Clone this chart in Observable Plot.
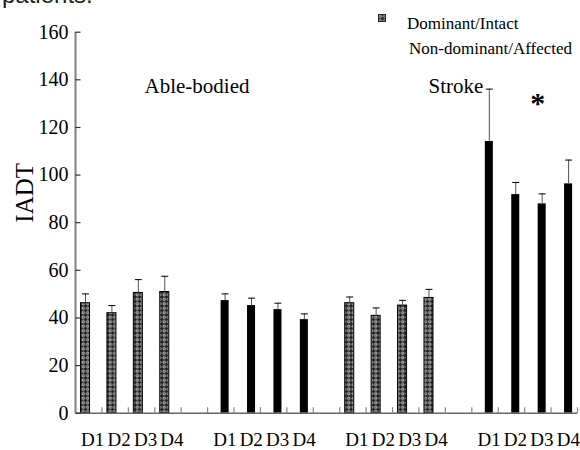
<!DOCTYPE html>
<html><head><meta charset="utf-8">
<script src="https://cdn.jsdelivr.net/npm/d3@7"></script>
<script src="https://cdn.jsdelivr.net/npm/@observablehq/plot@0.6"></script>
<style>
body{margin:0;background:#fff;}
#wrap{position:relative;width:580px;height:450px;overflow:hidden;background:#fff;}
#top{position:absolute;left:2px;top:-19px;font:24px 'Liberation Sans',Arial,sans-serif;color:#222;white-space:nowrap;}
.leg{position:absolute;font-family:'Liberation Serif','Times New Roman',serif;font-size:17px;color:#000;white-space:nowrap;}
#chart{position:absolute;left:0;top:0;}
#chart svg text{font-family:'Liberation Serif','Times New Roman',serif;}
</style></head>
<body>
<div id="wrap">
  <div id="chart"></div>
  <div id="top">patients.</div>
  <svg style="position:absolute;left:378px;top:14px" width="8" height="8"><rect x="0.5" y="0.5" width="7" height="7" fill="url(#hatch)" stroke="#222"/></svg>
  <div class="leg" style="left:407px;top:14px">Dominant/Intact</div>
  <div class="leg" style="left:409px;top:39px">Non-dominant/Affected</div>
</div>
<script>
const days = ["D1","D2","D3","D4"];
const seriesNames = ["Dominant/Intact","Non-dominant/Affected"];
// Able-bodied, dominant (hatched)
const ableDominantMean = [46.2, 42.0, 50.5, 50.9];
const ableDominantSD   = [3.9, 3.2, 5.6, 6.6];
// Able-bodied, non-dominant (black)
const ableNonDomMean = [47.3, 45.2, 43.5, 39.3];
const ableNonDomSD   = [2.8, 3.1, 2.7, 2.4];
// Stroke, intact (hatched)
const strokeIntactMean = [46.2, 40.9, 45.2, 48.4];
const strokeIntactSD   = [2.6, 3.3, 2.2, 3.6];
// Stroke, affected (black)
const strokeAffectedMean = [114.1, 91.8, 87.9, 96.3];
const strokeAffectedSD   = [22.0, 5.1, 4.2, 10.0];
const yTicks = [0,20,40,60,80,100,120,140,160];
// annotations: text, x (slot units), y (IADT units)
const annoText = ["Able-bodied","Stroke","*"];
const annoX = [4.6, 14.4, 17.5];
const annoY = [137.5, 137.5, 130];

const blocks = [
  [ableDominantMean, ableDominantSD, 0],
  [ableNonDomMean, ableNonDomSD, 1],
  [strokeIntactMean, strokeIntactSD, 0],
  [strokeAffectedMean, strokeAffectedSD, 1]
];
const rows = [];
blocks.forEach(([m, s, ser], g) => {
  m.forEach((v, d) => rows.push({slot: g*5 + d, day: days[d], mean: v, sd: s[d], series: seriesNames[ser]}));
});
const hatched = rows.filter(r => r.series === seriesNames[0]);
const solid = rows.filter(r => r.series === seriesNames[1]);
const nSlots = 19;
const boundaries = d3.range(0, nSlots + 1);
const labelSlots = rows.map(r => r.slot + 0.5);
const labelFor = new Map(rows.map(r => [r.slot + 0.5, r.day]));

const cap = {draw(ctx){ ctx.moveTo(-3.5,0); ctx.lineTo(3.5,0); }};
const yTickSym = {draw(ctx){ ctx.moveTo(0,0); ctx.lineTo(5,0); }};
const xTickSym = {draw(ctx){ ctx.moveTo(0,0); ctx.lineTo(0,-6); }};

const serif = "'Liberation Serif', 'Times New Roman', serif";
const plot = Plot.plot({
  width: 580, height: 450,
  marginLeft: 75, marginRight: 3, marginTop: 31.7, marginBottom: 37.3,
  style: {background: "transparent", overflow: "visible"},
  x: {domain: [0, nSlots], axis: null},
  y: {domain: [0, 160], axis: null},
  marks: [
    Plot.rect(hatched, {x1: "slot", x2: d => d.slot + 1, y1: 0, y2: "mean", insetLeft: 5.5, insetRight: 11.9, fill: "url(#hatch)", stroke: "#000", strokeWidth: 1}),
    Plot.rect(solid, {x1: "slot", x2: d => d.slot + 1, y1: 0, y2: "mean", insetLeft: 13.5, insetRight: 4.9, fill: "#000"}),
    Plot.ruleX(hatched, {x: "slot", y1: "mean", y2: d => d.mean + d.sd, dx: 10, stroke: "#555", strokeWidth: 1}),
    Plot.ruleX(solid, {x: "slot", y1: "mean", y2: d => d.mean + d.sd, dx: 17.5, stroke: "#555", strokeWidth: 1}),
    Plot.dot(hatched, {x: "slot", y: d => d.mean + d.sd, dx: 10, symbol: cap, stroke: "#000", fill: "none", strokeWidth: 1}),
    Plot.dot(solid, {x: "slot", y: d => d.mean + d.sd, dx: 17.5, symbol: cap, stroke: "#000", fill: "none", strokeWidth: 1}),
    Plot.ruleX([0], {stroke: "#808080", strokeWidth: 2}),
    Plot.ruleY([0], {stroke: "#666", strokeWidth: 1.5}),
    Plot.dot(yTicks, {x: 0, y: d => d, symbol: yTickSym, stroke: "#333", fill: "none", strokeWidth: 1.2}),
    Plot.dot(boundaries, {x: d => d, y: 0, symbol: xTickSym, stroke: "#888", fill: "none", strokeWidth: 1.2}),
    Plot.axisY({ticks: yTicks, tickSize: 0, tickPadding: 7, fontSize: 20, fontFamily: serif, label: null, fill: "#000"}),
    Plot.axisX({ticks: labelSlots, tickFormat: v => labelFor.get(v), tickSize: 0, tickPadding: 19, fontSize: 19, fontFamily: serif, dx: 4, label: null, fill: "#000"}),
    Plot.text(["IADT"], {frameAnchor: "left", dx: -51, dy: 0, rotate: -90, fontSize: 25, fontFamily: serif, fill: "#000", text: d => d}),
    Plot.text(annoText.slice(0,2), {x: (d,i) => annoX[i], y: (d,i) => annoY[i], text: d => d, fontSize: 21, fontFamily: serif, fill: "#000"}),
    Plot.text(annoText.slice(2), {x: () => annoX[2], y: () => annoY[2], text: d => d, fontSize: 30, fontWeight: "bold", fontFamily: serif, fill: "#000"})
  ]
});
// hatch pattern definition
const ns = "http://www.w3.org/2000/svg";
const defs = document.createElementNS(ns, "defs");
defs.innerHTML = `<pattern id="hatch" patternUnits="userSpaceOnUse" width="4.5" height="4.5">
  <rect width="4.5" height="4.5" fill="#222"/>
  <circle cx="2.25" cy="2.25" r="1.35" fill="#5a5a5a" stroke="#d8d8d8" stroke-width="0.8"/>
</pattern>`;
plot.insertBefore(defs, plot.firstChild);
document.getElementById("chart").appendChild(plot);
</script>
</body></html>
